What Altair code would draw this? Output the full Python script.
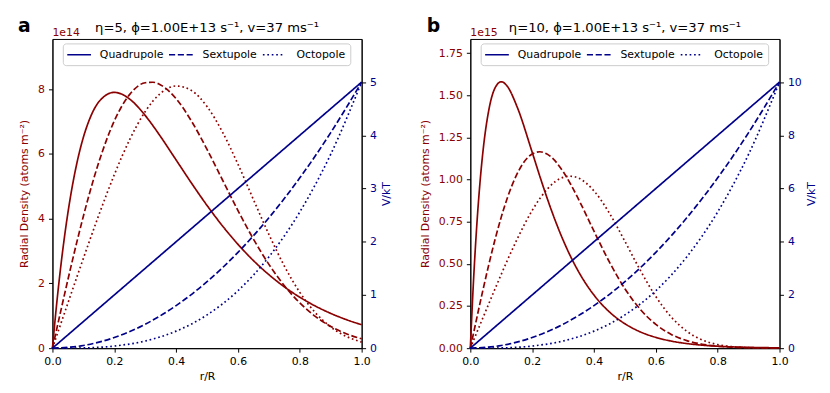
import altair as alt
import pandas as pd

# ---------------- data ----------------
SERIES = ["Quadrupole", "Sextupole", "Octopole"]

r_grid = [0, 0.01, 0.02, 0.03, 0.04, 0.06, 0.08, 0.1, 0.12, 0.15, 0.2, 0.225, 0.25,
          0.3, 0.325, 0.35, 0.4, 0.45, 0.5, 0.55, 0.6, 0.65, 0.7, 0.75, 0.8, 0.85,
          0.9, 0.95, 1.0]

# panel a: radial density, units of 1e14 atoms m^-2
dens_a_quad = [0, 1.021, 1.943, 2.772, 3.516, 4.773, 5.758, 6.512, 7.071, 7.608, 7.9, 7.843,
               7.691, 7.187, 6.871, 6.530, 5.812, 5.093, 4.407, 3.775, 3.207, 2.706, 2.270,
               1.894, 1.573, 1.302, 1.074, 0.883, 0.723]
dens_a_sext = [0, 0.428, 0.855, 1.280, 1.701, 2.526, 3.321, 4.077, 4.786, 5.744, 7.018, 7.486,
               7.839, 8.198, 8.214, 8.130, 7.703, 7.007, 6.139, 5.194, 4.251, 3.369, 2.589,
               1.930, 1.398, 0.983, 0.672, 0.447, 0.289]
dens_a_oct = [0, 0.279, 0.558, 0.836, 1.115, 1.671, 2.225, 2.774, 3.317, 4.112, 5.357, 5.926,
              6.446, 7.308, 7.632, 7.875, 8.098, 7.955, 7.461, 6.674, 5.681, 4.590, 3.512,
              2.537, 1.724, 1.099, 0.655, 0.364, 0.188]

# panel b: radial density, units of 1e15 atoms m^-2
dens_b_quad = [0, 0.3886, 0.7033, 0.9545, 1.1516, 1.4142, 1.5438, 1.58, 1.5523, 1.4375, 1.1625,
               1.0185, 0.8814, 0.6415, 0.5412, 0.4539, 0.3147, 0.2147, 0.1447, 0.0965, 0.0639,
               0.0420, 0.0274, 0.0178, 0.0115, 0.0074, 0.0048, 0.0031, 0.0020]
dens_b_sext = [0, 0.0858, 0.1711, 0.2554, 0.3381, 0.4972, 0.6446, 0.7772, 0.8925, 1.0289, 1.1516,
               1.1649, 1.1494, 1.0477, 0.9709, 0.8832, 0.6937, 0.5102, 0.3525, 0.2294, 0.1408,
               0.0817, 0.0448, 0.0232, 0.0114, 0.0053, 0.0024, 0.0010, 0.0004]
dens_b_oct = [0, 0.0442, 0.0885, 0.1327, 0.1768, 0.2648, 0.3520, 0.4379, 0.5217, 0.6415, 0.8166,
              0.8881, 0.9458, 1.0130, 1.0198, 1.0083, 0.9329, 0.8002, 0.6336, 0.4609, 0.3061,
              0.1845, 0.1003, 0.0488, 0.0212, 0.0081, 0.0027, 0.0008, 0.0002]

# potential V/kT
r_pot = [0, 0.1, 0.2, 0.3, 0.4, 0.5, 0.6, 0.7, 0.8, 0.9, 1.0]
pot_a_quad = [0, 0.5, 1.0, 1.5, 2.0, 2.5, 3.0, 3.5, 4.0, 4.5, 5.0]
pot_a_sext = [0, 0.05, 0.2, 0.45, 0.8, 1.25, 1.8, 2.45, 3.2, 4.05, 5.0]
pot_a_oct = [0, 0.005, 0.04, 0.135, 0.32, 0.625, 1.08, 1.715, 2.56, 3.645, 5.0]
pot_b_quad = [0, 1.0, 2.0, 3.0, 4.0, 5.0, 6.0, 7.0, 8.0, 9.0, 10.0]
pot_b_sext = [0, 0.1, 0.4, 0.9, 1.6, 2.5, 3.6, 4.9, 6.4, 8.1, 10.0]
pot_b_oct = [0, 0.01, 0.08, 0.27, 0.64, 1.25, 2.16, 3.43, 5.12, 7.29, 10.0]

x_ticks = [0, 0.2, 0.4, 0.6, 0.8, 1.0]
dens_ticks_a = [0, 2, 4, 6, 8]
dens_ticks_b = [0, 0.25, 0.5, 0.75, 1.0, 1.25, 1.5, 1.75]
pot_ticks_a = [0, 1, 2, 3, 4, 5]
pot_ticks_b = [0, 2, 4, 6, 8, 10]

# ---------------- style ----------------
RED = "#8B0000"
BLUE = "#00008B"
FONT = "DejaVu Sans"
LW = 1.7
DASH = [[1, 0], [6.2, 2.7], [1.7, 2.8]]
W = 313
H = 313

# manual legend geometry (relative to plot area)
LEG_BOX = (11, 302, 5, 27)
LEG_SYM = [(15, 39), (118, 143), (213, 235)]
LEG_LAB = [48, 152, 247]
LEG_Y = 16


def long_df(xs, series_lists):
    rows = []
    for name, vals in zip(SERIES, series_lists):
        for xv, yv in zip(xs, vals):
            rows.append({"r": xv, "v": yv, "s": name})
    return pd.DataFrame(rows)


def panel(letter, letter_dx, title, expo, dens, pot, dens_dom, pot_dom,
          dens_ticks, pot_ticks, dens_fmt):
    df_d = long_df(r_grid, dens)
    df_p = long_df(r_pot, pot)

    x = alt.X("r:Q", scale=alt.Scale(domain=[0, 1], nice=False, zero=False),
              axis=alt.Axis(values=x_ticks, format=".1f", title="r/R", titlePadding=4,
                            labelColor="black", titleColor="black"))

    dash_scale = alt.Scale(domain=SERIES, range=DASH)

    red = alt.Chart(df_d).mark_line(color=RED, strokeWidth=LW, interpolate="monotone").encode(
        x=x,
        y=alt.Y("v:Q", scale=alt.Scale(domain=dens_dom, nice=False, zero=False),
                axis=alt.Axis(orient="left", values=dens_ticks, format=dens_fmt,
                              title="Radial Density (atoms m⁻²)", titlePadding=8,
                              labelColor=RED, titleColor=RED)),
        strokeDash=alt.StrokeDash("s:N", scale=dash_scale, legend=None),
        detail="s:N",
    )

    blue = alt.Chart(df_p).mark_line(color=BLUE, strokeWidth=LW, interpolate="monotone").encode(
        x=x,
        y=alt.Y("v:Q", scale=alt.Scale(domain=pot_dom, nice=False, zero=False),
                axis=alt.Axis(orient="right", values=pot_ticks, format="d",
                              title="V/kT", titleAngle=270, titleBaseline="top",
                              titlePadding=4, labelColor=BLUE, titleColor=BLUE)),
        strokeDash=alt.StrokeDash("s:N", scale=dash_scale, legend=None),
        detail="s:N",
    )

    one = pd.DataFrame({"k": [0]})
    title_mark = alt.Chart(pd.DataFrame({"t": [title]})).mark_text(
        fontSize=13.3, font=FONT, align="center", baseline="alphabetic", color="black").encode(
        x=alt.value(W / 2), y=alt.value(-7), text="t:N")

    exp_mark = alt.Chart(pd.DataFrame({"t": [expo]})).mark_text(
        fontSize=11, font=FONT, align="left", baseline="alphabetic", color=RED).encode(
        x=alt.value(0), y=alt.value(-3), text="t:N")

    let_mark = alt.Chart(pd.DataFrame({"t": [letter]})).mark_text(
        fontSize=19, font=FONT, fontWeight="bold", align="left", baseline="alphabetic",
        color="black").encode(x=alt.value(letter_dx), y=alt.value(-7), text="t:N")

    x0, x1, y0, y1 = LEG_BOX
    leg_box = alt.Chart(one).mark_rect(fill="white", fillOpacity=0.85, stroke="#cccccc",
                                       strokeWidth=1, cornerRadius=3).encode(
        x=alt.value(x0), x2=alt.value(x1), y=alt.value(y0), y2=alt.value(y1))

    leg_layers = [leg_box]
    for name, dash, (sx0, sx1), lx in zip(SERIES, DASH, LEG_SYM, LEG_LAB):
        leg_layers.append(
            alt.Chart(one).mark_rule(color=BLUE, strokeWidth=LW, strokeDash=dash).encode(
                x=alt.value(sx0), x2=alt.value(sx1), y=alt.value(LEG_Y)))
        leg_layers.append(
            alt.Chart(pd.DataFrame({"t": [name]})).mark_text(
                fontSize=11, font=FONT, align="left", baseline="middle", color="black").encode(
                x=alt.value(lx), y=alt.value(LEG_Y), text="t:N"))

    return alt.layer(red, blue, *leg_layers, title_mark, exp_mark, let_mark).resolve_scale(
        y="independent").properties(width=W, height=H)


pa = panel("a", -35, "η=5, ϕ=1.00E+13 s⁻¹, v=37 ms⁻¹", "1e14",
           [dens_a_quad, dens_a_sext, dens_a_oct], [pot_a_quad, pot_a_sext, pot_a_oct],
           [0, 9.55], [0, 5.81], dens_ticks_a, pot_ticks_a, "d")
pb = panel("b", -44, "η=10, ϕ=1.00E+13 s⁻¹, v=37 ms⁻¹", "1e15",
           [dens_b_quad, dens_b_sext, dens_b_oct], [pot_b_quad, pot_b_sext, pot_b_oct],
           [0, 1.834], [0, 11.62], dens_ticks_b, pot_ticks_b, ".2f")

chart = alt.hconcat(pa, pb, spacing=110, bounds="flush").properties(
    padding={"left": 9, "top": 6, "right": 5, "bottom": 5}
).configure(font=FONT).configure_view(stroke="black", strokeWidth=1).configure_axis(
    grid=False, domainColor="black", tickColor="black", tickSize=4, labelFontSize=11,
    titleFontSize=11, titleFontWeight="normal", labelFont=FONT, titleFont=FONT,
    labelPadding=4, labelFlush=False
)

chart.save("out.html", embed_options={"renderer": "svg", "actions": False})
